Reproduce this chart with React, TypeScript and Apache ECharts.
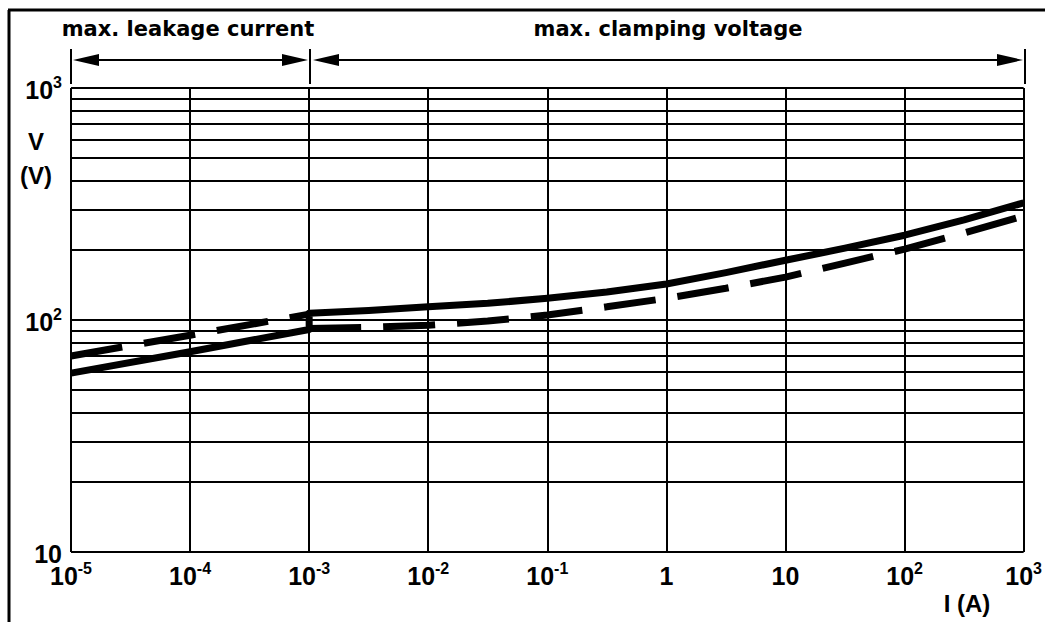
import React, { useEffect, useRef } from "react";
import * as echarts from "echarts";

// ---- data ----
const xDecades = [1e-5, 1e-4, 1e-3, 1e-2, 1e-1, 1, 10, 100, 1000];
const yGridValues = [10, 20, 30, 40, 50, 60, 70, 80, 90, 100, 200, 300, 400, 500, 600, 700, 800, 900, 1000];

// solid curve (current I in A, voltage V)
const solidI = [1e-5, 1e-4, 1e-3, 1e-3, 3.16e-3, 1e-2, 3.16e-2, 1e-1, 3.16e-1, 1, 3.16, 10, 31.6, 100, 316, 1000];
const solidV = [59, 73, 91, 107, 110, 114, 118, 124, 132, 143, 160, 181, 204, 232, 270, 320];

// dashed curve, leakage part
const dashLeftI = [1e-5, 1e-4, 1e-3];
const dashLeftV = [70, 86, 106];

// dashed curve, clamping part
const dashRightI = [1e-3, 3.16e-3, 1e-2, 3.16e-2, 1e-1, 3.16e-1, 1, 3.16, 10, 31.6, 100, 316, 1000];
const dashRightV = [92, 93, 95, 99, 105, 114, 124, 137, 153, 176, 202, 237, 281];

const FONT = "'Liberation Sans', Arial, Helvetica, sans-serif";

const zip = (a: number[], b: number[]) => a.map((v, i) => [v, b[i]]);

const richStyles = {
  b: { fontSize: 25, fontWeight: "bold", fontFamily: FONT, color: "#000", verticalAlign: "bottom", lineHeight: 28 },
  s: { fontSize: 16, fontWeight: "bold", fontFamily: FONT, color: "#000", verticalAlign: "top", lineHeight: 28, padding: [0, 0, 9, 0] },
};

const fmtX = (v: number) => {
  const e = Math.round(Math.log10(v));
  if (e === 0) return "{b|1}";
  if (e === 1) return "{b|10}";
  return `{b|10}{s|${e}}`;
};
const fmtY = (v: number) => {
  const e = Math.round(Math.log10(v));
  if (e === 1) return "{b|10}";
  return `{b|10}{s|${e}}`;
};

export default function App() {
  const ref = useRef<HTMLDivElement>(null);
  useEffect(() => {
    if (!ref.current) return;
    const chart = echarts.init(ref.current, undefined, { renderer: "svg" });
    const lineStyleGrid = { color: "#000", width: 2, type: "solid" as const };
    const arrowY = 60;
    const option: any = {
      animation: false,
      backgroundColor: "#fff",
      grid: { left: 71, right: 20, top: 88, bottom: 70, containLabel: false },
      xAxis: {
        type: "log",
        logBase: 10,
        min: 1e-5,
        max: 1e3,
        splitNumber: 8,
        axisLine: { show: false },
        axisTick: { show: false },
        splitLine: { show: false },
        axisLabel: {
          show: true,
          margin: 8,
          showMinLabel: true,
          showMaxLabel: true,
          formatter: fmtX,
          rich: richStyles,
        },
      },
      yAxis: {
        type: "log",
        logBase: 10,
        min: 10,
        max: 1000,
        splitNumber: 2,
        axisLine: { show: false },
        axisTick: { show: false },
        splitLine: { show: false },
        axisLabel: {
          show: true,
          margin: 9,
          showMinLabel: true,
          showMaxLabel: true,
          formatter: fmtY,
          rich: richStyles,
        },
      },
      series: [
        {
          type: "line",
          data: [],
          z: 1,
          silent: true,
          markLine: {
            silent: true,
            animation: false,
            precision: 10,
            symbol: ["none", "none"],
            label: { show: false },
            lineStyle: lineStyleGrid,
            data: [
              ...yGridValues.map((v) => ({ yAxis: v })),
              ...xDecades.map((v) => ({ xAxis: v })),
            ],
          },
        },
        {
          type: "line",
          data: zip(solidI, solidV),
          showSymbol: false,
          symbol: "none",
          z: 3,
          lineStyle: { color: "#000", width: 7, type: "solid", cap: "butt", join: "round" },
        },
        {
          type: "line",
          data: zip(dashLeftI, dashLeftV),
          showSymbol: false,
          symbol: "none",
          z: 3,
          lineStyle: { color: "#000", width: 7, type: [52, 22], cap: "butt" },
        },
        {
          type: "line",
          data: zip(dashRightI, dashRightV),
          showSymbol: false,
          symbol: "none",
          z: 3,
          lineStyle: { color: "#000", width: 7, type: [52, 22], cap: "butt" },
        },
      ],
      graphic: [
        // outer frame (left and top edges)
        { type: "line", shape: { x1: 9, y1: 10, x2: 9, y2: 640 }, style: { stroke: "#000", lineWidth: 3 } },
        { type: "line", shape: { x1: 8, y1: 10, x2: 1045, y2: 10 }, style: { stroke: "#000", lineWidth: 3 } },
        // region markers
        { type: "line", shape: { x1: 71, y1: 49, x2: 71, y2: 84 }, style: { stroke: "#000", lineWidth: 2 } },
        { type: "line", shape: { x1: 310, y1: 49, x2: 310, y2: 84 }, style: { stroke: "#000", lineWidth: 2 } },
        { type: "line", shape: { x1: 1025, y1: 49, x2: 1025, y2: 84 }, style: { stroke: "#000", lineWidth: 2 } },
        // arrow 1
        { type: "line", shape: { x1: 90, y1: arrowY, x2: 290, y2: arrowY }, style: { stroke: "#000", lineWidth: 2 } },
        { type: "polygon", shape: { points: [[73, arrowY], [99, arrowY - 6], [99, arrowY + 6]] }, style: { fill: "#000" } },
        { type: "polygon", shape: { points: [[308, arrowY], [282, arrowY - 6], [282, arrowY + 6]] }, style: { fill: "#000" } },
        // arrow 2
        { type: "line", shape: { x1: 330, y1: arrowY, x2: 1005, y2: arrowY }, style: { stroke: "#000", lineWidth: 2 } },
        { type: "polygon", shape: { points: [[313, arrowY], [339, arrowY - 6], [339, arrowY + 6]] }, style: { fill: "#000" } },
        { type: "polygon", shape: { points: [[1023, arrowY], [997, arrowY - 6], [997, arrowY + 6]] }, style: { fill: "#000" } },
        // region titles
        {
          type: "text",
          x: 188,
          y: 29,
          style: { text: "max. leakage current", font: `bold 21px 'DejaVu Sans', sans-serif`, fill: "#000", align: "center", verticalAlign: "middle" },
        },
        {
          type: "text",
          x: 668,
          y: 29,
          style: { text: "max. clamping voltage", font: `bold 21px 'DejaVu Sans', sans-serif`, fill: "#000", align: "center", verticalAlign: "middle" },
        },
        // axis names
        {
          type: "text",
          x: 36,
          y: 141,
          style: { text: "V", font: `bold 24px ${FONT}`, fill: "#000", align: "center", verticalAlign: "middle" },
        },
        {
          type: "text",
          x: 36,
          y: 175,
          style: { text: "(V)", font: `bold 24px ${FONT}`, fill: "#000", align: "center", verticalAlign: "middle" },
        },
        {
          type: "text",
          x: 967,
          y: 603,
          style: { text: "I (A)", font: `bold 24px ${FONT}`, fill: "#000", align: "center", verticalAlign: "middle" },
        },
      ],
    };
    chart.setOption(option);
    return () => chart.dispose();
  }, []);
  return (
    <div
      ref={ref}
      style={{ position: "fixed", left: 0, top: 0, width: 1045, height: 622, background: "#fff" }}
    />
  );
}
